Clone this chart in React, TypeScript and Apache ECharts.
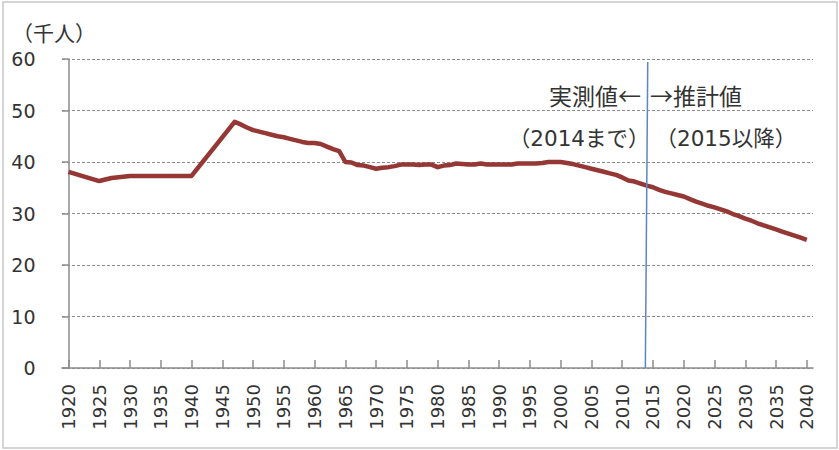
import React, { useEffect, useRef } from "react";
import * as echarts from "echarts";

const years: number[] = [
  1920, 1925, 1927, 1930, 1935, 1940, 1947, 1948, 1949, 1950, 1951, 1952, 1953, 1954,
  1955, 1956, 1957, 1958, 1959, 1960, 1961, 1962, 1963, 1964, 1965, 1966, 1967, 1968,
  1969, 1970, 1971, 1972, 1973, 1974, 1975, 1976, 1977, 1978, 1979, 1980, 1981, 1982,
  1983, 1984, 1985, 1986, 1987, 1988, 1989, 1990, 1991, 1992, 1993, 1994, 1995, 1996,
  1997, 1998, 1999, 2000, 2001, 2002, 2003, 2004, 2005, 2006, 2007, 2008, 2009, 2010,
  2011, 2012, 2013, 2014, 2015, 2016, 2017, 2018, 2019, 2020, 2021, 2022, 2023, 2024,
  2025, 2026, 2027, 2028, 2029, 2030, 2031, 2032, 2033, 2034, 2035, 2036, 2037, 2038,
  2039, 2040,
];

const values: number[] = [
  38.1, 36.3, 36.9, 37.3, 37.3, 37.3, 47.8, 47.3, 46.7, 46.2, 45.9, 45.6, 45.3, 45.0,
  44.8, 44.5, 44.2, 43.9, 43.7, 43.7, 43.5, 43.0, 42.5, 42.1, 40.0, 39.9, 39.4, 39.3,
  39.0, 38.7, 38.9, 39.0, 39.2, 39.5, 39.5, 39.5, 39.4, 39.5, 39.5, 39.0, 39.3, 39.4,
  39.7, 39.6, 39.5, 39.5, 39.7, 39.5, 39.5, 39.5, 39.5, 39.5, 39.7, 39.7, 39.7, 39.7,
  39.8, 40.0, 40.0, 40.0, 39.8, 39.6, 39.3, 39.0, 38.7, 38.4, 38.1, 37.8, 37.5, 37.0,
  36.4, 36.2, 35.8, 35.4, 35.1, 34.6, 34.2, 33.9, 33.6, 33.3, 32.8, 32.3, 31.9, 31.5,
  31.2, 30.8, 30.4, 29.9, 29.5, 29.0, 28.6, 28.1, 27.7, 27.3, 26.9, 26.5, 26.1, 25.7,
  25.3, 24.9,
];

const xTickYears: number[] = [
  1920, 1925, 1930, 1935, 1940, 1945, 1950, 1955, 1960, 1965, 1970, 1975, 1980, 1985,
  1990, 1995, 2000, 2005, 2010, 2015, 2020, 2025, 2030, 2035, 2040,
];

const unitLabel = "（千人）";
const leftNote = "実測値←";
const rightNote = "→推計値";
const leftSub = "（2014まで）";
const rightSub = "（2015以降）";

const FONT = "'DejaVu Sans', 'Noto Sans CJK JP', sans-serif";
const CJK_FIRST = "'Noto Sans CJK JP', 'DejaVu Sans', sans-serif";

export default function App() {
  const ref = useRef<HTMLDivElement>(null);
  useEffect(() => {
    if (!ref.current) return;
    const chart = echarts.init(ref.current, undefined, { renderer: "svg" });
    const data = years.map((y, i) => [y, values[i]]);
    chart.setOption({
      animation: false,
      backgroundColor: "#ffffff",
      textStyle: { fontFamily: FONT },
      grid: { left: 62, right: 26, top: 59, bottom: 82, containLabel: false },
      xAxis: {
        type: "value",
        min: 1918.943,
        max: 2041.01,
        axisLine: { show: true, lineStyle: { color: "#8c8c8c", width: 1.5 } },
        axisTick: {
          show: true,
          inside: true,
          length: 8,
          customValues: xTickYears,
          lineStyle: { color: "#8c8c8c", width: 1.5 },
        },
        axisLabel: {
          customValues: xTickYears,
          rotate: 90,
          margin: 16,
          fontSize: 18,
          color: "#333333",
          fontFamily: FONT,
          formatter: (v: number) => String(Math.round(v)),
        },
        splitLine: { show: false },
      },
      yAxis: {
        type: "value",
        min: 0,
        max: 60,
        interval: 10,
        offset: -6.5,
        axisLine: { show: true, lineStyle: { color: "#8c8c8c", width: 1.5 } },
        axisTick: { show: true, length: 6.5, lineStyle: { color: "#8c8c8c", width: 1.5 } },
        axisLabel: {
          margin: 33,
          fontSize: 19,
          color: "#333333",
          fontFamily: FONT,
          padding: [0, 0, 6, 0],
        },
        splitLine: {
          show: true,
          lineStyle: { color: "#8c8c8c", type: [3, 2], width: 1 },
        },
      },
      series: [
        {
          type: "line",
          data,
          showSymbol: false,
          symbol: "none",
          lineStyle: { color: "#953735", width: 4.5, join: "round" },
          z: 3,
          markLine: {
            silent: true,
            symbol: "none",
            label: { show: false },
            lineStyle: { color: "#5b87c4", width: 1.5, type: "solid" },
            data: [[{ coord: [2014.15, 59.4] }, { coord: [2013.76, 0] }]],
          },
        },
      ],
      graphic: [
        {
          type: "rect",
          shape: { x: 3, y: 2, width: 834, height: 446 },
          style: { fill: "none", stroke: "#c8c8c8", lineWidth: 1.5 },
          silent: true,
        },
        {
          type: "text",
          x: 12,
          y: 32,
          style: {
            text: unitLabel,
            font: `21px ${CJK_FIRST}`,
            fill: "#333333",
            textAlign: "left",
            textVerticalAlign: "middle",
          },
        },
        {
          type: "text",
          x: 641,
          y: 95,
          style: {
            text: leftNote,
            font: `23px ${CJK_FIRST}`,
            fill: "#333333",
            textAlign: "right",
            textVerticalAlign: "middle",
          },
        },
        {
          type: "text",
          x: 650,
          y: 95,
          style: {
            text: rightNote,
            font: `23px ${CJK_FIRST}`,
            fill: "#333333",
            textAlign: "left",
            textVerticalAlign: "middle",
          },
        },
        {
          type: "text",
          x: 649.5,
          y: 138,
          style: {
            text: leftSub,
            font: `21.5px ${FONT}`,
            fill: "#333333",
            textAlign: "right",
            textVerticalAlign: "middle",
          },
        },
        {
          type: "text",
          x: 655.5,
          y: 138,
          style: {
            text: rightSub,
            font: `21.5px ${FONT}`,
            fill: "#333333",
            textAlign: "left",
            textVerticalAlign: "middle",
          },
        },
      ],
    });
    return () => chart.dispose();
  }, []);
  return (
    <div
      ref={ref}
      style={{ position: "fixed", left: 0, top: 0, width: 839, height: 450 }}
    />
  );
}
